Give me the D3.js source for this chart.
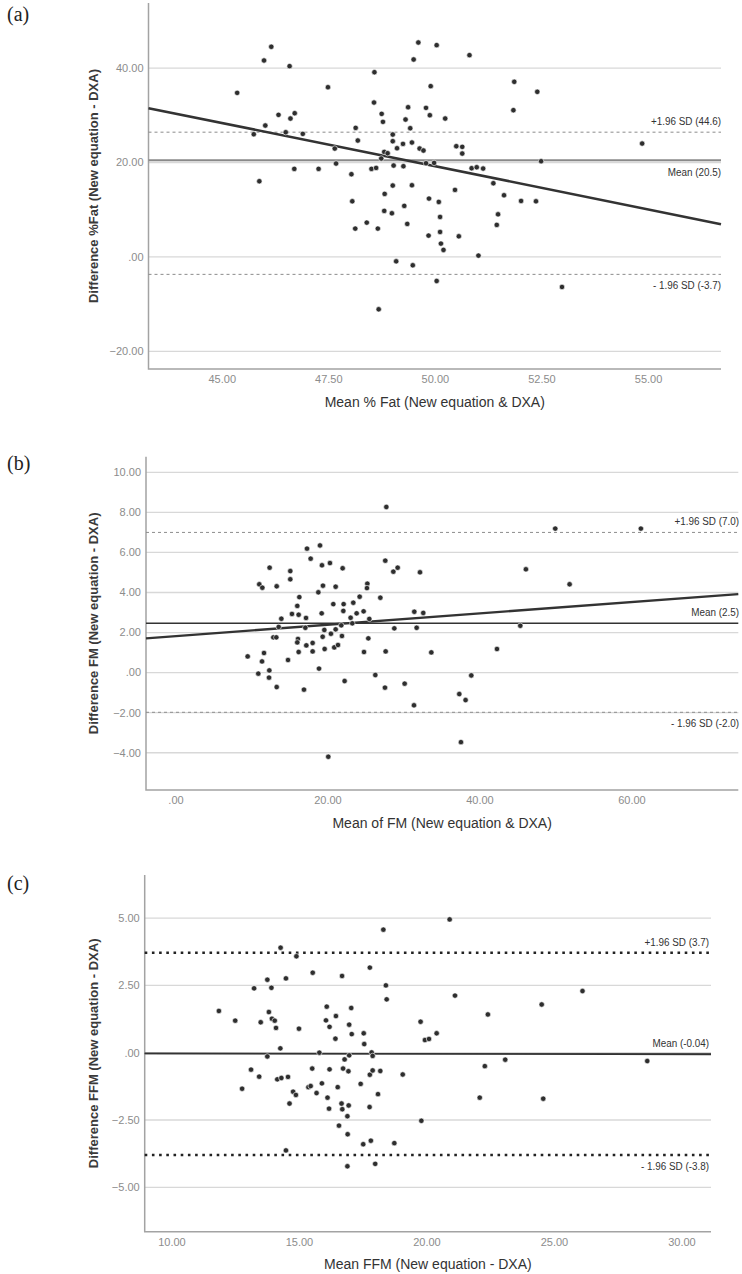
<!DOCTYPE html>
<html>
<head>
<meta charset="utf-8">
<script src="https://cdn.jsdelivr.net/npm/d3@7"></script>
<style>
  html, body { margin: 0; padding: 0; background: #fff; }
</style>
</head>
<body>
<script>
/* global d3 */

const W = 742
const H = 1274
const SANS = '"Liberation Sans", Arial, sans-serif'
const SERIF = '"Liberation Serif", "Times New Roman", serif'

// ---- (a) %Fat ----
const fatMean = [46.15, 45.98, 46.58, 48.57, 49.60, 49.49, 49.89, 45.35, 47.48, 48.56,
  46.32, 46.70, 46.60, 46.01, 46.49, 45.74, 46.89, 48.13, 48.18, 48.74,
  48.77, 49.36, 49.30, 49.78, 49.87, 49.41, 49.00, 49.00, 49.24, 49.45,
  49.10, 49.63, 49.72, 47.64, 48.80, 48.88, 48.73, 47.67, 46.69, 47.26,
  48.50, 48.61, 49.02, 49.25, 49.78, 45.87, 48.03, 49.45, 49.00, 48.81,
  49.85, 48.05, 49.27, 48.80, 48.98, 48.39, 48.12, 48.65, 49.34, 49.84,
  49.08, 49.47, 48.67,
  50.03, 50.80, 50.23, 51.85, 52.39, 51.83, 54.85, 50.49, 50.63, 50.63,
  49.97, 52.48, 50.85, 50.97, 51.12, 51.36, 50.46, 51.61, 50.08, 52.01,
  52.36, 50.11, 51.47, 51.44, 50.11, 50.55, 50.13, 50.19, 51.01, 50.03, 52.97]
const fatDiff = [44.52, 41.62, 40.42, 39.14, 45.43, 41.83, 36.18, 34.76, 35.96, 32.71,
  30.10, 30.45, 29.32, 27.84, 26.42, 26.00, 26.07, 27.34, 24.66, 30.31,
  28.62, 31.72, 29.11, 31.58, 30.03, 27.27, 25.93, 24.52, 23.95, 24.24,
  23.03, 22.96, 22.54, 22.96, 22.25, 21.97, 20.84, 19.78, 18.65, 18.65,
  18.65, 18.86, 19.36, 19.22, 19.85, 16.04, 17.52, 15.19, 15.12, 13.35,
  12.36, 11.79, 10.81, 9.75, 9.25, 7.27, 6.00, 6.00, 6.99, 4.52,
  -0.93, -1.77, -11.10,
  44.87, 42.75, 29.32, 37.10, 34.98, 31.09, 24.02, 23.46, 23.32, 21.90,
  19.92, 20.28, 18.79, 19.00, 18.72, 15.61, 14.20, 13.07, 11.65, 11.86,
  11.79, 8.47, 9.03, 6.78, 5.29, 4.37, 2.82, 1.48, 0.28, -5.10, -6.37]
const fatXTicks = [45, 47.5, 50, 52.5, 55]
const fatYTicks = [-20, 0, 20, 40]
const fatLimits = [26.43, 20.5, -3.7]
const fatLimitLabels = ['+1.96 SD (44.6)', 'Mean (20.5)', '- 1.96 SD (-3.7)']
const fatFit = [[43.27, 31.52], [56.70, 6.93]]

// ---- (b) FM ----
const fmMean = [27.68, 17.24, 18.95, 17.72, 19.21, 20.26, 21.93, 12.32, 15.04, 15.04,
  27.54, 28.60, 29.17, 32.11, 10.96, 11.36, 13.25, 19.34, 21.01, 18.73,
  25.18, 25.13, 16.23, 24.17, 26.89, 15.96, 20.70, 22.06, 23.33, 22.02,
  15.26, 16.14, 19.17, 13.86, 17.11, 22.98, 23.77, 24.69, 25.44, 31.36,
  32.54, 13.51, 17.02, 19.52, 21.01, 21.75, 23.20, 28.73, 31.67, 12.81,
  13.20, 19.30, 20.39, 21.84, 16.05, 15.96, 17.98, 25.31, 17.15, 20.83,
  21.32, 19.56, 9.43, 11.58, 16.14, 17.98, 24.74, 27.59, 33.60, 11.32,
  14.74, 18.82, 10.83, 12.28, 12.24, 13.25, 26.23, 22.19, 30.09, 16.84,
  27.50, 31.32, 20.04,
  49.91, 61.18, 46.05, 51.80, 45.31, 42.24, 38.86, 37.28, 38.11, 37.50]
const fmDiff = [8.27, 6.19, 6.35, 5.69, 5.36, 5.47, 5.21, 5.24, 5.07, 4.66,
  5.59, 5.04, 5.24, 5.01, 4.41, 4.24, 4.31, 4.34, 4.29, 4.01,
  4.44, 4.22, 3.77, 3.79, 3.74, 3.33, 3.42, 3.42, 3.49, 3.08,
  2.93, 2.89, 2.96, 2.69, 2.73, 2.74, 2.96, 3.06, 2.68, 3.04,
  2.98, 2.28, 2.24, 2.13, 2.16, 2.36, 2.46, 2.21, 2.24, 1.76,
  1.76, 1.79, 1.94, 1.83, 1.68, 1.51, 1.48, 1.71, 1.36, 1.26,
  1.38, 1.18, 0.81, 0.98, 1.03, 1.06, 1.03, 1.06, 1.01, 0.56,
  0.63, 0.20, -0.05, 0.11, -0.25, -0.72, -0.12, -0.42, -0.55, -0.85,
  -0.75, -1.63, -4.20,
  7.19, 7.19, 5.16, 4.41, 2.34, 1.18, -0.14, -1.07, -1.37, -3.47]
const fmXTicks = [0, 20, 40, 60]
const fmYTicks = [-4, -2, 0, 2, 4, 6, 8, 10]
const fmLimits = [7.0, 2.47, -1.98]
const fmLimitLabels = ['+1.96 SD (7.0)', 'Mean (2.5)', '- 1.96 SD (-2.0)']
const fmFit = [[-3.95, 1.71], [74.0, 3.92]]

// ---- (c) FFM ----
const ffmMean = [18.29, 14.26, 14.88, 17.76, 15.52, 16.67, 13.74, 14.47, 13.22, 13.90,
  18.39, 18.42, 11.84, 16.07, 17.03, 13.80, 12.48, 13.48, 13.92, 14.03,
  16.04, 16.43, 16.18, 16.95, 14.08, 14.98, 17.05, 17.52, 19.75, 16.41,
  17.54, 19.92, 20.08, 20.38, 14.25, 15.78, 13.74, 16.77, 16.95, 17.83,
  17.87, 13.10, 13.42, 15.50, 16.18, 16.71, 16.92, 17.76, 17.87, 18.17,
  19.05, 14.13, 14.29, 14.55, 12.75, 15.35, 15.44, 15.88, 16.50, 17.40,
  14.75, 14.86, 15.67, 14.61, 16.10, 16.65, 16.93, 16.16, 16.68, 16.88,
  17.75, 18.08, 16.55, 19.78, 16.89, 17.50, 17.80, 18.72, 14.47, 16.88, 17.97,
  20.89, 21.10, 26.10, 24.50, 22.39, 23.07, 22.27, 28.64, 22.07, 24.56]
const ffmDiff = [4.57, 3.90, 3.58, 3.16, 2.97, 2.85, 2.71, 2.76, 2.39, 2.41,
  2.50, 1.98, 1.55, 1.71, 1.66, 1.51, 1.19, 1.13, 1.26, 1.19,
  1.20, 1.36, 0.96, 1.04, 0.92, 0.89, 0.69, 0.72, 1.15, 0.52,
  0.32, 0.47, 0.51, 0.72, 0.16, 0.00, -0.14, -0.25, -0.10, 0.01,
  -0.12, -0.63, -0.89, -0.59, -0.62, -0.59, -0.69, -0.82, -0.66, -0.68,
  -0.81, -0.99, -0.94, -0.90, -1.34, -1.28, -1.24, -1.14, -1.28, -1.16,
  -1.45, -1.57, -1.50, -1.89, -1.67, -1.89, -1.96, -2.08, -2.10, -2.36,
  -2.02, -1.54, -2.71, -2.53, -3.03, -3.40, -3.27, -3.36, -3.63, -4.22, -4.13,
  4.95, 2.12, 2.29, 1.79, 1.42, -0.26, -0.50, -0.31, -1.67, -1.71]
const ffmXTicks = [10, 15, 20, 25, 30]
const ffmYTicks = [-5, -2.5, 0, 2.5, 5]
const ffmLimits = [3.71, -0.04, -3.8]
const ffmLimitLabels = ['+1.96 SD (3.7)', 'Mean (-0.04)', '- 1.96 SD (-3.8)']
const ffmFit = [[8.93, -0.02], [31.14, -0.07]]

const svg = d3.select('body')
  .append('svg')
  .attr('width', W)
  .attr('height', H)

// SPSS style numbers: ".00", "40.00"
const fmt = (v) => d3.format('.2f')(v).replace(/^(-?)0\./, '$1.')

function drawPanel(p) {
  const x = d3.scaleLinear().domain(p.xDomain).range([p.left, p.right])
  const y = d3.scaleLinear().domain(p.yDomain).range([p.bottom, p.top])
  const g = svg.append('g')

  // grid lines
  g.selectAll('.grid')
    .data(p.yTicks)
    .join('line')
    .attr('x1', p.left).attr('x2', p.right)
    .attr('y1', (d) => y(d)).attr('y2', (d) => y(d))
    .attr('stroke', '#d8d8d8')
    .attr('stroke-width', 1.3)

  // y tick labels
  g.selectAll('.ylab')
    .data(p.yTicks)
    .join('text')
    .attr('x', p.left - 5)
    .attr('y', (d) => y(d))
    .attr('dy', '0.35em')
    .attr('text-anchor', 'end')
    .style('font-family', SANS)
    .style('font-size', '11px')
    .style('fill', '#8c8c8c')
    .text(fmt)

  // x tick labels
  g.selectAll('.xlab')
    .data(p.xTicks)
    .join('text')
    .attr('x', (d) => x(d))
    .attr('y', p.bottom + 14)
    .attr('text-anchor', 'middle')
    .style('font-family', SANS)
    .style('font-size', '11px')
    .style('fill', '#8c8c8c')
    .text(fmt)

  // axis lines (left + bottom)
  g.append('path')
    .attr('d', `M${p.left},${p.top}V${p.bottom}H${p.right}`)
    .attr('fill', 'none')
    .attr('stroke', '#a3a3a3')
    .attr('stroke-width', 1.5)

  // limits of agreement
  const [upper, mean, lower] = p.limits
  ;[upper, lower].forEach((v) => {
    g.append('line')
      .attr('x1', p.left).attr('x2', p.right)
      .attr('y1', y(v)).attr('y2', y(v))
      .attr('stroke', p.dotted ? '#222' : '#8c8c8c')
      .attr('stroke-width', p.dotted ? 2.6 : 1)
      .attr('stroke-dasharray', p.dotted ? '2.6,4.6' : '3,3')
  })
  g.append('line')
    .attr('x1', p.left).attr('x2', p.right)
    .attr('y1', y(mean)).attr('y2', y(mean))
    .attr('stroke', p.meanColor)
    .attr('stroke-width', p.meanWidth)

  // fit line
  g.append('path')
    .datum(p.fit)
    .attr('d', d3.line().x((d) => x(d[0])).y((d) => y(d[1])))
    .attr('fill', 'none')
    .attr('stroke', '#333')
    .attr('stroke-width', p.fitWidth)

  // points
  g.selectAll('.pt')
    .data(p.xs.map((v, i) => [v, p.ys[i]]))
    .join('circle')
    .attr('cx', (d) => x(d[0]))
    .attr('cy', (d) => y(d[1]))
    .attr('r', 2.7)
    .attr('fill', '#2e2e2e')
    .attr('stroke', '#fff')
    .attr('stroke-width', 0.6)

  // limit labels (narrow look: squeeze horizontally)
  const offs = [-7, p.meanBelow ? 16 : -7, 15]
  g.selectAll('.lim')
    .data(p.limitLabels)
    .join('text')
    .attr('transform', (d, i) => `translate(${p.labelRight},${y(p.limits[i]) + offs[i]}) scale(0.86,1)`)
    .attr('text-anchor', 'end')
    .style('font-family', SANS)
    .style('font-size', '11.5px')
    .style('fill', '#333')
    .text((d) => d)

  // axis titles
  g.append('text')
    .attr('transform', `translate(${p.yTitleX},${(p.top + p.bottom) / 2}) rotate(-90)`)
    .attr('text-anchor', 'middle')
    .attr('dy', '0.35em')
    .style('font-family', SANS)
    .style('font-weight', 'bold')
    .style('font-size', '13px')
    .style('fill', '#3a3a3a')
    .text(p.yTitle)

  g.append('text')
    .attr('x', (p.left + p.right) / 2)
    .attr('y', p.xTitleY)
    .attr('text-anchor', 'middle')
    .style('font-family', SANS)
    .style('font-size', '14px')
    .style('fill', '#333')
    .text(p.xTitle)

  // panel letter
  svg.append('text')
    .attr('x', 7)
    .attr('y', p.letterY)
    .style('font-family', SERIF)
    .style('font-size', '20px')
    .style('fill', '#222')
    .text(p.letter)
}

drawPanel({
  letter: '(a)', letterY: 21,
  left: 148.5, right: 721, top: 3, bottom: 369,
  xDomain: [43.27, 56.70], yDomain: [-23.75, 53.8],
  xs: fatMean, ys: fatDiff, xTicks: fatXTicks, yTicks: fatYTicks,
  limits: fatLimits, limitLabels: fatLimitLabels, fit: fatFit,
  dotted: false, meanColor: '#8a8a8a', meanWidth: 2, meanBelow: true, fitWidth: 2.6,
  labelRight: 721,
  yTitle: 'Difference %Fat (New equation - DXA)', yTitleX: 93,
  xTitle: 'Mean % Fat (New equation & DXA)', xTitleY: 407
})

drawPanel({
  letter: '(b)', letterY: 470,
  left: 146, right: 738.3, top: 456.7, bottom: 790,
  xDomain: [-3.95, 74.0], yDomain: [-5.86, 10.78],
  xs: fmMean, ys: fmDiff, xTicks: fmXTicks, yTicks: fmYTicks,
  limits: fmLimits, limitLabels: fmLimitLabels, fit: fmFit,
  dotted: false, meanColor: '#333', meanWidth: 1.5, meanBelow: false, fitWidth: 2.4,
  labelRight: 739,
  yTitle: 'Difference FM (New equation - DXA)', yTitleX: 93,
  xTitle: 'Mean of FM (New equation & DXA)', xTitleY: 828
})

drawPanel({
  letter: '(c)', letterY: 890,
  left: 144.7, right: 711, top: 875, bottom: 1231.7,
  xDomain: [8.93, 31.14], yDomain: [-6.65, 6.60],
  xs: ffmMean, ys: ffmDiff, xTicks: ffmXTicks, yTicks: ffmYTicks,
  limits: ffmLimits, limitLabels: ffmLimitLabels, fit: ffmFit,
  dotted: true, meanColor: '#555', meanWidth: 1.5, meanBelow: false, fitWidth: 1.5,
  labelRight: 709,
  yTitle: 'Difference FFM (New equation - DXA)', yTitleX: 93,
  xTitle: 'Mean FFM (New equation - DXA)', xTitleY: 1269
})
</script>
</body>
</html>
